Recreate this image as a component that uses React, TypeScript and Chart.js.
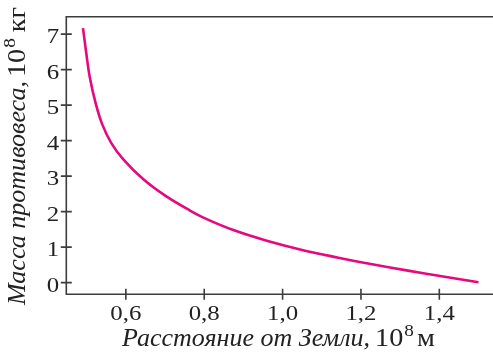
import React, { useEffect, useRef } from "react";
import { Chart, registerables } from "chart.js";

Chart.register(...registerables);

const distance = [0.4906, 0.499, 0.5077, 0.523, 0.54, 0.5629, 0.5935, 0.6446, 0.7043, 0.7638, 0.8021, 0.8743, 0.9596, 1.0446, 1.1424, 1.19, 1.274, 1.359, 1.445, 1.5];
const mass = [7.17, 6.46, 5.8, 5.05, 4.45, 3.93, 3.47, 2.91, 2.42, 2.03, 1.81, 1.48, 1.18, 0.935, 0.7, 0.596, 0.426, 0.264, 0.107, 0.008];

const xTicks = [0.6, 0.8, 1.0, 1.2, 1.4];
const xTickLabels = ["0,6", "0,8", "1,0", "1,2", "1,4"];
const yTicks = [0, 1, 2, 3, 4, 5, 6, 7];
const yTickLabels = ["0", "1", "2", "3", "4", "5", "6", "7"];

const xTitleItalic = "Расстояние от Земли,";
const xTitleUnit = "м";
const yTitleItalic = "Масса противовеса,";
const yTitleUnit = "кг";

const SERIF = "'Liberation Serif', 'DejaVu Serif', serif";
const AXIS_COLOR = "#3c3c3c";
const TEXT_COLOR = "#222";
const LINE_COLOR = "#e6087f";
const STRETCH = 1.13;

function stretchText(ctx: CanvasRenderingContext2D, text: string, x: number, y: number, sx: number) {
  ctx.save();
  ctx.translate(x, y);
  ctx.scale(sx, 1);
  ctx.fillText(text, 0, 0);
  ctx.restore();
}

// italicLen: length of italic part; tenAt: offset of "10"; total: offset of end of unit
function drawTitle(ctx: CanvasRenderingContext2D, x: number, y: number, italic: string, unit: string, size: number, italicLen: number, tenAt: number, total: number) {
  ctx.textBaseline = "alphabetic";
  ctx.textAlign = "left";
  ctx.font = `italic ${size}px ${SERIF}`;
  const wItalic = ctx.measureText(italic).width;
  stretchText(ctx, italic, x, y, italicLen / wItalic);
  ctx.font = `${size}px ${SERIF}`;
  const wTen = ctx.measureText("10").width * STRETCH;
  stretchText(ctx, "10", x + tenAt, y, STRETCH);
  const sup = Math.round(size * 0.68);
  ctx.font = `${sup}px ${SERIF}`;
  stretchText(ctx, "8", x + tenAt + wTen + 1, y - size * 0.42, STRETCH);
  ctx.font = `${size}px ${SERIF}`;
  const wUnit = ctx.measureText(unit).width * STRETCH;
  stretchText(ctx, unit, x + total - wUnit, y, STRETCH);
}

const axesPlugin = {
  id: "customAxes",
  beforeDatasetsDraw(chart: any) {
    const { ctx, chartArea: a, scales } = chart;
    ctx.save();
    ctx.strokeStyle = AXIS_COLOR;
    ctx.lineWidth = 1.6;
    ctx.beginPath();
    ctx.moveTo(a.right, a.top);
    ctx.lineTo(a.left, a.top);
    ctx.lineTo(a.left, a.bottom);
    ctx.lineTo(a.right, a.bottom);
    for (const v of yTicks) {
      const y = scales.y.getPixelForValue(v);
      ctx.moveTo(a.left - 5.5, y);
      ctx.lineTo(a.left + 5.5, y);
    }
    for (const v of xTicks) {
      const x = scales.x.getPixelForValue(v);
      ctx.moveTo(x, a.bottom - 5.5);
      ctx.lineTo(x, a.bottom + 5.5);
    }
    ctx.stroke();

    ctx.fillStyle = TEXT_COLOR;
    ctx.font = `22px ${SERIF}`;
    ctx.textBaseline = "alphabetic";
    ctx.textAlign = "left";
    yTicks.forEach((v, i) => {
      const y = scales.y.getPixelForValue(v);
      const w = ctx.measureText(yTickLabels[i]).width * STRETCH;
      stretchText(ctx, yTickLabels[i], a.left - 7 - w, y + 9, STRETCH);
    });
    xTicks.forEach((v, i) => {
      const x = scales.x.getPixelForValue(v);
      const w = ctx.measureText(xTickLabels[i]).width * STRETCH;
      stretchText(ctx, xTickLabels[i], x - w / 2, a.bottom + 26, STRETCH);
    });
    ctx.restore();
  },
  afterDraw(chart: any) {
    const { ctx } = chart;
    ctx.save();
    ctx.fillStyle = TEXT_COLOR;
    drawTitle(ctx, 122, 346, xTitleItalic, xTitleUnit, 25, 248, 253, 313);
    ctx.translate(25, 305);
    ctx.rotate(-Math.PI / 2);
    drawTitle(ctx, 0, 0, yTitleItalic, yTitleUnit, 25, 224, 228, 298);
    ctx.restore();
  },
};

export default function App() {
  const ref = useRef<HTMLCanvasElement>(null);
  useEffect(() => {
    document.body.style.margin = "0";
    const chart = new Chart(ref.current!, {
      type: "line",
      data: {
        datasets: [
          {
            data: distance.map((d, i) => ({ x: d, y: mass[i] })),
            borderColor: LINE_COLOR,
            borderWidth: 2.6,
            pointRadius: 0,
            tension: 0.35,
            fill: false,
          },
        ],
      },
      options: {
        animation: false,
        responsive: false,
        devicePixelRatio: 1,
        layout: { padding: { top: 16.7, right: 0, left: 0, bottom: 0 } },
        plugins: { legend: { display: false }, tooltip: { enabled: false } },
        scales: {
          x: {
            type: "linear",
            min: 0.448,
            max: 1.537,
            grid: { display: false },
            border: { display: false },
            ticks: { display: false },
            afterFit: (s: any) => {
              s.height = 62.7;
            },
          },
          y: {
            type: "linear",
            min: -0.33,
            max: 7.49,
            grid: { display: false },
            border: { display: false },
            ticks: { display: false },
            afterFit: (s: any) => {
              s.width = 66.3;
            },
          },
        },
      },
      plugins: [axesPlugin],
    } as any);
    return () => chart.destroy();
  }, []);
  return (
    <div style={{ position: "absolute", left: 0, top: 0, width: 493, height: 357 }}>
      <canvas ref={ref} width={493} height={357} style={{ display: "block" }} />
    </div>
  );
}
